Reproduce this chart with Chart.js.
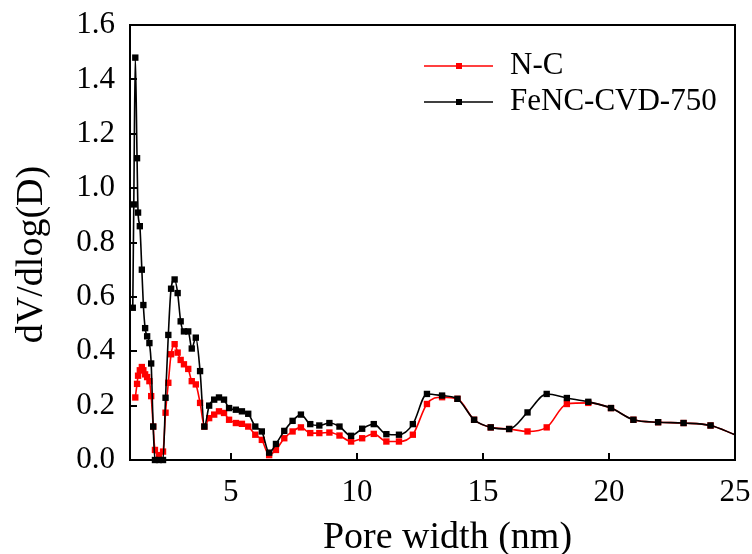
<!DOCTYPE html>
<html>
<head>
<meta charset="utf-8">
<script src="https://cdn.jsdelivr.net/npm/chart.js@4.4.1/dist/chart.umd.min.js"></script>
<style>
  html, body { margin: 0; padding: 0; background: #fff; }
  #wrap { width: 752px; height: 554px; }
</style>
</head>
<body>
<div id="wrap"><canvas id="psd" width="752" height="554"></canvas></div>
<script>
// pore size distribution
const poreWidth = [1.11, 1.15, 1.21, 1.28, 1.32, 1.39, 1.47, 1.53, 1.60, 1.68,
  1.77, 1.84, 1.92, 1.99, 2.15, 2.31, 2.41, 2.52, 2.63, 2.77,
  2.89, 3.01, 3.14, 3.31, 3.45, 3.61, 3.78, 3.95, 4.14, 4.34,
  4.53, 4.73, 4.93, 5.20, 5.44, 5.69, 5.97, 6.23, 6.52, 6.79,
  7.12, 7.45, 7.78, 8.15, 8.51, 8.91, 9.31, 9.77, 10.21, 10.67,
  11.17, 11.67, 12.22, 12.78, 13.38, 13.99, 14.65, 15.31, 16.04, 16.77,
  17.53, 18.33, 19.18, 20.08, 20.97, 21.95, 22.96, 24.03, 25.0];

const ncValues = [null, null, 0.23, 0.28, 0.31, 0.33, 0.342, 0.33, 0.315, 0.305,
  0.29, 0.235, 0.123, 0.037, 0.018, 0.031, 0.174, 0.284, 0.389, 0.426,
  0.395, 0.368, 0.352, 0.335, 0.29, 0.278, 0.21, 0.123, 0.154, 0.167,
  0.179, 0.173, 0.148, 0.136, 0.133, 0.123, 0.093, 0.074, 0.018, 0.037,
  0.08, 0.105, 0.12, 0.099, 0.099, 0.101, 0.09, 0.068, 0.08, 0.096,
  0.068, 0.068, 0.093, 0.206, 0.231, 0.225, 0.148, 0.12, 0.114, 0.105,
  0.12, 0.206, 0.21, 0.191, 0.148, 0.139, 0.136, 0.127, 0.093];

const fencValues = [0.56, 0.94, 1.48, 1.11, 0.91, 0.86, 0.70, 0.57, 0.485, 0.455,
  0.43, 0.355, 0.123, 0, 0, 0, 0.229, 0.46, 0.63, 0.664,
  0.614, 0.51, 0.473, 0.473, 0.41, 0.45, 0.327, 0.123, 0.2, 0.222,
  0.23, 0.222, 0.191, 0.185, 0.179, 0.17, 0.123, 0.105, 0.027, 0.059,
  0.107, 0.144, 0.167, 0.132, 0.127, 0.136, 0.123, 0.089, 0.115, 0.132,
  0.095, 0.093, 0.132, 0.243, 0.237, 0.225, 0.148, 0.12, 0.114, 0.175,
  0.243, 0.228, 0.214, 0.191, 0.148, 0.139, 0.136, 0.127, 0.093];

const xTicks = [5, 10, 15, 20, 25];
const yTicks = [0, 0.2, 0.4, 0.6, 0.8, 1.0, 1.2, 1.4, 1.6];
const seriesNames = ['N-C', 'FeNC-CVD-750'];

const SERIF = '"Liberation Serif", "Times New Roman", serif';

function toPoints(vals){
  return poreWidth.map((x, i) => ({ x, y: vals[i] }));
}

// no extra room for overhanging tick labels, the layout padding decides
function noOverhang(s){
  s.paddingTop = 0; s.paddingBottom = 0; s.paddingLeft = 0; s.paddingRight = 0;
}

// Origin-style frame: closed box with inward ticks, plus titles and legend
const framePlugin = {
  id: 'frame',
  afterDatasetsDraw(chart){
    const { ctx, chartArea: a, scales: { x, y } } = chart;
    ctx.save();
    ctx.strokeStyle = '#000';
    ctx.lineWidth = 2;
    ctx.strokeRect(a.left, a.top, a.right - a.left, a.bottom - a.top);
    ctx.beginPath();
    xTicks.forEach(v => {
      const px = Math.round(x.getPixelForValue(v));
      ctx.moveTo(px, a.bottom); ctx.lineTo(px, a.bottom - 7);
    });
    yTicks.forEach(v => {
      const py = Math.round(y.getPixelForValue(v));
      ctx.moveTo(a.left, py); ctx.lineTo(a.left + 7, py);
    });
    ctx.stroke();

    ctx.fillStyle = '#000';
    ctx.font = '38px ' + SERIF;
    ctx.textAlign = 'center';
    ctx.textBaseline = 'alphabetic';
    ctx.fillText('Pore width (nm)', (a.left + a.right) / 2 + 15, chart.height - 6);
    ctx.save();
    ctx.translate(42, (a.top + a.bottom) / 2 + 12);
    ctx.rotate(-Math.PI / 2);
    ctx.fillText('dV/dlog(D)', 0, 0);
    ctx.restore();

    // legend, top right inside the plot
    ctx.font = '31px ' + SERIF;
    ctx.textAlign = 'left';
    ctx.textBaseline = 'middle';
    chart.data.datasets.forEach((ds, i) => {
      const ly = a.top + 41 + i * 36;
      const lx = a.right - 311;
      ctx.strokeStyle = ds.borderColor;
      ctx.lineWidth = 1.5;
      ctx.beginPath(); ctx.moveTo(lx, ly); ctx.lineTo(lx + 69, ly); ctx.stroke();
      ctx.fillStyle = ds.borderColor;
      ctx.fillRect(lx + 32, ly - 3, 6, 6);
      ctx.fillStyle = '#000';
      ctx.fillText(ds.label, lx + 86, ly);
    });
    ctx.restore();
  }
};

const hideEdgeMarker = c => (c.raw && c.raw.x >= 25 ? 0 : 4.5);

new Chart(document.getElementById('psd'), {
  type: 'line',
  data: {
    datasets: [
      { label: seriesNames[0], data: toPoints(ncValues), borderColor: '#ff0000', backgroundColor: '#ff0000',
        borderWidth: 1.6, pointStyle: 'rect', pointRadius: hideEdgeMarker, pointBorderWidth: 0,
        cubicInterpolationMode: 'monotone', clip: false, order: 1 },
      { label: seriesNames[1], data: toPoints(fencValues), borderColor: '#000000', backgroundColor: '#000000',
        borderWidth: 1.6, pointStyle: 'rect', pointRadius: hideEdgeMarker, pointBorderWidth: 0,
        cubicInterpolationMode: 'monotone', clip: false, order: 0 }
    ]
  },
  options: {
    responsive: false,
    animation: false,
    devicePixelRatio: 1,
    layout: { padding: { top: 25, right: 17, left: 0, bottom: 0 } },
    plugins: { legend: { display: false }, tooltip: { enabled: false } },
    scales: {
      x: {
        type: 'linear', min: 1, max: 25,
        afterBuildTicks: s => { s.ticks = xTicks.map(v => ({ value: v })); },
        afterFit: s => { s.height = 94; noOverhang(s); },
        grid: { display: false, drawTicks: false },
        border: { display: false },
        ticks: { padding: 14, color: '#000', font: { family: SERIF, size: 31 }, maxRotation: 0 }
      },
      y: {
        min: 0, max: 1.6,
        afterBuildTicks: s => { s.ticks = yTicks.map(v => ({ value: v })); },
        afterFit: s => { s.width = 130; noOverhang(s); },
        grid: { display: false, drawTicks: false },
        border: { display: false },
        ticks: { padding: 15, color: '#000', font: { family: SERIF, size: 31 }, callback: v => v.toFixed(1) }
      }
    }
  },
  plugins: [framePlugin]
});
</script>
</body>
</html>
